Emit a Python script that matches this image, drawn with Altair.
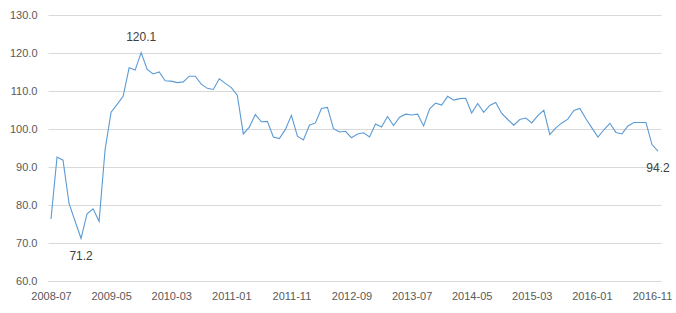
import altair as alt
import pandas as pd

start_year, start_month = 2008, 7
n_months = 102
months = []
for k in range(n_months):
    m = start_month - 1 + k
    months.append(f"{start_year + m // 12}-{m % 12 + 1:02d}")

values = [
    76.3, 92.6, 91.8, 80.4, 75.8, 71.2, 77.7, 79.0, 75.7, 94.6,
    104.4, 106.5, 108.6, 116.1, 115.5, 120.1, 115.7, 114.5, 115.0, 112.7,
    112.6, 112.2, 112.4, 113.9, 113.9, 111.8, 110.7, 110.4, 113.2, 112.0,
    110.9, 108.9, 98.7, 100.5, 103.8, 101.9, 102.0, 97.9, 97.5, 99.9,
    103.6, 98.1, 97.1, 101.0, 101.6, 105.4, 105.7, 100.1, 99.2, 99.4,
    97.7, 98.7, 99.0, 97.9, 101.3, 100.5, 103.3, 100.9, 103.1, 103.9,
    103.7, 103.9, 100.8, 105.3, 106.8, 106.3, 108.6, 107.6, 108.0, 108.1,
    104.2, 106.7, 104.4, 106.2, 107.0, 104.1, 102.5, 101.0, 102.5, 102.9,
    101.6, 103.5, 104.9, 98.5, 100.3, 101.6, 102.6, 104.9, 105.4, 102.7,
    100.3, 97.9, 99.8, 101.5, 99.1, 98.7, 100.8, 101.7, 101.7, 101.7,
    95.9, 94.2,
]

tick_labels = [months[i] for i in range(0, n_months, 10)]
y_ticks = [60, 70, 80, 90, 100, 110, 120, 130]

# annotated points: (month, label, vertical offset)
ann_months = ["2009-10", "2008-12", "2016-12"]
ann_labels = ["120.1", "71.2", "94.2"]
ann_dy = [-16, 18, 17]

df = pd.DataFrame({"month": months, "value": values})
ann = pd.DataFrame({
    "month": ann_months,
    "value": [values[months.index(m)] for m in ann_months],
    "label": ann_labels,
})

FONT = "Liberation Sans"

x_enc = alt.X(
    "month:O",
    sort=months,
    scale=alt.Scale(type="point", padding=0.5, domain=months),
    axis=alt.Axis(
        values=tick_labels,
        labelAngle=0,
        title=None,
        ticks=False,
        domain=True,
        domainColor="#D9D9D9",
        labelPadding=9,
        labelFontSize=11,
        labelFont=FONT,
        labelColor="#595959",
        labelOverlap=False,
        grid=False,
    ),
)
y_enc = alt.Y(
    "value:Q",
    scale=alt.Scale(domain=[60, 130], nice=False, zero=False),
    axis=alt.Axis(
        values=y_ticks,
        tickCount=8,
        format=".1f",
        title=None,
        ticks=False,
        domain=False,
        grid=True,
        gridColor="#D9D9D9",
        gridWidth=1,
        labelPadding=11,
        labelFontSize=11,
        labelFont=FONT,
        labelColor="#595959",
        labelOverlap=False,
    ),
)

line = alt.Chart(df).mark_line(color="#5B9BD5", strokeWidth=1.1).encode(
    x=x_enc, y=y_enc
)

texts = []
for m, lab, dy in zip(ann_months, ann_labels, ann_dy):
    sub = ann[ann["month"] == m]
    texts.append(
        alt.Chart(sub)
        .mark_text(dy=dy, fontSize=12, font=FONT, color="#404040", align="center", baseline="middle")
        .encode(x=x_enc, y=y_enc, text="label:N")
    )

chart = (
    alt.layer(line, *texts)
    .properties(
        width=613,
        height=266,
        padding={"left": 48, "top": 15, "right": 15, "bottom": 32},
        autosize=alt.AutoSizeParams(type="none"),
        background="white",
    )
    .configure_view(stroke=None)
)

chart.save("out.html", embed_options={"renderer": "svg", "actions": False})
